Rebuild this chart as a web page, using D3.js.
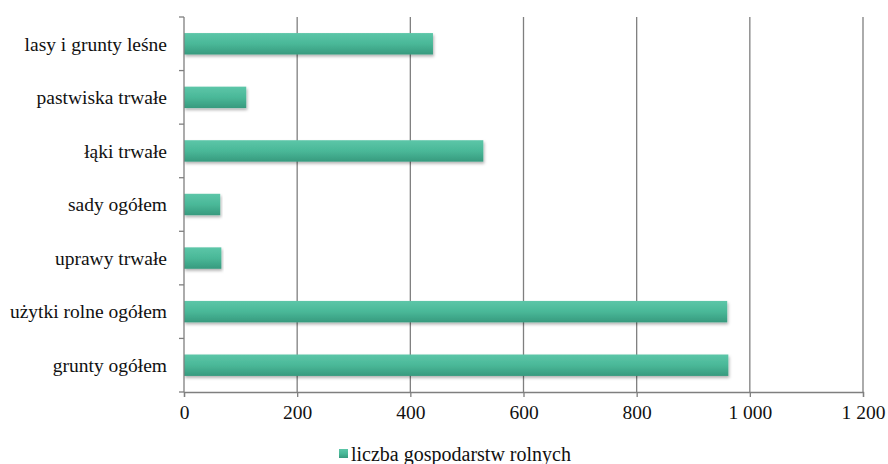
<!DOCTYPE html>
<html><head><meta charset="utf-8">
<script src="https://cdn.jsdelivr.net/npm/d3@7"></script>
<style>html,body{margin:0;padding:0;background:#fff;}svg{display:block;}</style>
</head><body>
<svg id="chart" width="888" height="464"></svg>
<script>
const categories = ["lasy i grunty leśne","pastwiska trwałe","łąki trwałe","sady ogółem","uprawy trwałe","użytki rolne ogółem","grunty ogółem"];
const values = [440, 110, 529, 64, 66, 960, 962];
const seriesName = "liczba gospodarstw rolnych";
const xTicks = [0, 200, 400, 600, 800, 1000, 1200];

const svg = d3.select("#chart");
const m = {left:184, top:17, bottom:392};
const x = d3.scaleLinear().domain([0,1200]).range([m.left, 863]);
const y = d3.scaleBand().domain(categories).range([m.top, m.bottom]).paddingInner(0.6).paddingOuter(0.3);
const font = "'Liberation Serif', 'DejaVu Serif', serif";
const fs = 19.5;

const defs = svg.append("defs");
const g = defs.append("linearGradient").attr("id","barGrad").attr("x1",0).attr("y1",0).attr("x2",0).attr("y2",1);
g.append("stop").attr("offset","0%").attr("stop-color","#5cc6a8");
g.append("stop").attr("offset","50%").attr("stop-color","#4ab898");
g.append("stop").attr("offset","100%").attr("stop-color","#379a7e");
const f = defs.append("filter").attr("id","shadow").attr("x","-5%").attr("y","-30%").attr("width","110%").attr("height","170%");
f.append("feDropShadow").attr("dx",1).attr("dy",2).attr("stdDeviation",1.5).attr("flood-color","#000").attr("flood-opacity",0.3);

// gridlines
svg.append("g").selectAll("line").data(xTicks.slice(1)).join("line")
  .attr("x1",d=>x(d)).attr("x2",d=>x(d)).attr("y1",m.top).attr("y2",m.bottom)
  .attr("stroke","#7f7f7f").attr("stroke-width",1.3);

// bars
svg.append("g").selectAll("rect").data(categories).join("rect")
  .attr("x",x(0)).attr("y",d=>y(d)).attr("height",y.bandwidth())
  .attr("width",(d,i)=>x(values[i])-x(0))
  .attr("fill","url(#barGrad)").attr("filter","url(#shadow)");

// x axis
const fmt = v => d3.format(",")(v).replace(/,/g," ");
const xAxis = svg.append("g").attr("transform",`translate(0,${m.bottom})`)
  .call(d3.axisBottom(x).tickValues(xTicks).tickFormat(fmt).tickSize(5).tickPadding(8));
xAxis.select(".domain").attr("stroke","#7f7f7f").attr("stroke-width",1.3);
xAxis.selectAll(".tick line").attr("stroke","#7f7f7f").attr("stroke-width",1.3);
xAxis.selectAll("text").attr("font-family",font).attr("font-size",fs).attr("fill","#111");

// y axis
const yStep = (m.bottom-m.top)/categories.length;
const yAx = svg.append("g");
yAx.append("line").attr("x1",x(0)).attr("x2",x(0)).attr("y1",m.top).attr("y2",m.bottom).attr("stroke","#7f7f7f").attr("stroke-width",1.3);
yAx.selectAll("line.t").data(d3.range(categories.length+1)).join("line").attr("class","t")
  .attr("x1",x(0)-5).attr("x2",x(0)).attr("y1",i=>m.top+i*yStep).attr("y2",i=>m.top+i*yStep)
  .attr("stroke","#7f7f7f").attr("stroke-width",1.3);
yAx.selectAll("text").data(categories).join("text")
  .attr("x",x(0)-17).attr("y",d=>y(d)+y.bandwidth()/2).attr("dy","0.35em")
  .attr("text-anchor","end").attr("font-family",font).attr("font-size",fs).attr("fill","#111")
  .text(d=>d);

// legend
const lg = svg.append("g").attr("transform","translate(339,449)");
lg.append("rect").attr("x",0).attr("y",0).attr("width",9).attr("height",9).attr("fill","url(#barGrad)");
lg.append("text").attr("x",12).attr("y",11.5).attr("font-family",font).attr("font-size",20).attr("fill","#111").text(seriesName);
</script>
</body></html>
